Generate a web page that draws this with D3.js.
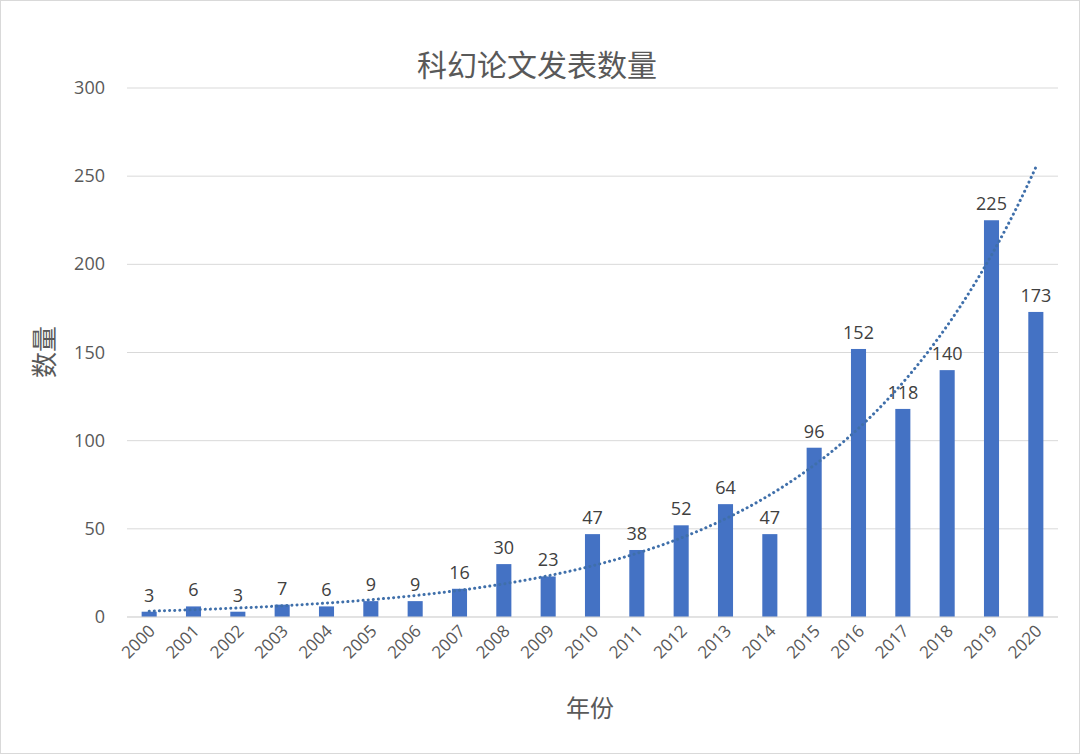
<!DOCTYPE html>
<html><head><meta charset="utf-8">
<script src="https://cdn.jsdelivr.net/npm/d3@7"></script>
<style>body{margin:0;background:#fff}svg{font-family:"Open Sans","Noto Sans CJK SC",sans-serif}</style>
</head><body><svg id="c" width="1080" height="754"></svg>
<script>
const years=["2000","2001","2002","2003","2004","2005","2006","2007","2008","2009","2010","2011","2012","2013","2014","2015","2016","2017","2018","2019","2020"];
const counts=[3,6,3,7,6,9,9,16,30,23,47,38,52,64,47,96,152,118,140,225,173];
const yTicks=[0,50,100,150,200,250,300];
const svg=d3.select("#c");
svg.append("rect").attr("x",0.5).attr("y",0.5).attr("width",1079).attr("height",753).attr("fill","#fff").attr("stroke","#d9d9d9");
const x=d3.scaleBand().domain(years).range([127,1058]).paddingInner(0.66).paddingOuter(0.33);
const y=d3.scaleLinear().domain([0,300]).range([617,88]);
svg.append("g").selectAll("line").data(yTicks).join("line")
 .attr("x1",127).attr("x2",1058).attr("y1",d=>y(d)).attr("y2",d=>y(d)).attr("stroke","#d9d9d9");
svg.append("g").selectAll("text").data(yTicks).join("text")
 .attr("x",105).attr("y",d=>y(d)+6).attr("text-anchor","end").attr("font-size",18).attr("fill","#595959").text(d=>d);
svg.append("g").selectAll("rect").data(counts).join("rect")
 .attr("x",(d,i)=>x(years[i])).attr("width",x.bandwidth()).attr("y",d=>y(d)).attr("height",d=>y(0)-y(d)).attr("fill","#4472c4");
svg.append("g").selectAll("text").data(counts).join("text")
 .attr("x",(d,i)=>x(years[i])+x.bandwidth()/2).attr("y",d=>y(d)-10).attr("text-anchor","middle")
 .attr("font-size",18).attr("fill","#404040").text(d=>d);
// Excel-style exponential trendline fit
const n=counts.length;let sx=0,sy=0,sxx=0,sxy=0;
counts.forEach((v,i)=>{const t=i+1,l=Math.log(v);sx+=t;sy+=l;sxx+=t*t;sxy+=t*l;});
const b=(n*sxy-sx*sy)/(n*sxx-sx*sx),a=(sy-b*sx)/n;
const pts=d3.range(1,21.001,0.1).map(t=>[t,Math.exp(a+b*t)]);
const xt=t=>x(years[0])+x.bandwidth()/2+(t-1)*x.step();
svg.append("path").datum(pts).attr("fill","none").attr("stroke","#3f6faa").attr("stroke-width",3)
 .attr("stroke-dasharray","0.1,5").attr("stroke-linecap","round")
 .attr("d",d3.line().x(d=>xt(d[0])).y(d=>y(d[1])));
svg.append("line").attr("x1",127).attr("x2",1058).attr("y1",617).attr("y2",617).attr("stroke","#d9d9d9");
svg.append("g").selectAll("text").data(years).join("text")
 .attr("transform",d=>`translate(${x(d)+x.bandwidth()/2+7},${632}) rotate(-45)`)
 .attr("text-anchor","end").attr("font-size",17).attr("fill","#595959").text(d=>d);
svg.append("text").attr("x",537).attr("y",76).attr("text-anchor","middle").attr("font-size",30).attr("fill","#595959").text("科幻论文发表数量");
svg.append("text").attr("x",590).attr("y",717).attr("text-anchor","middle").attr("font-size",24).attr("fill","#595959").text("年份");
svg.append("text").attr("transform","translate(54,352) rotate(-90)").attr("text-anchor","middle").attr("font-size",26).attr("fill","#595959").text("数量");
</script></body></html>
